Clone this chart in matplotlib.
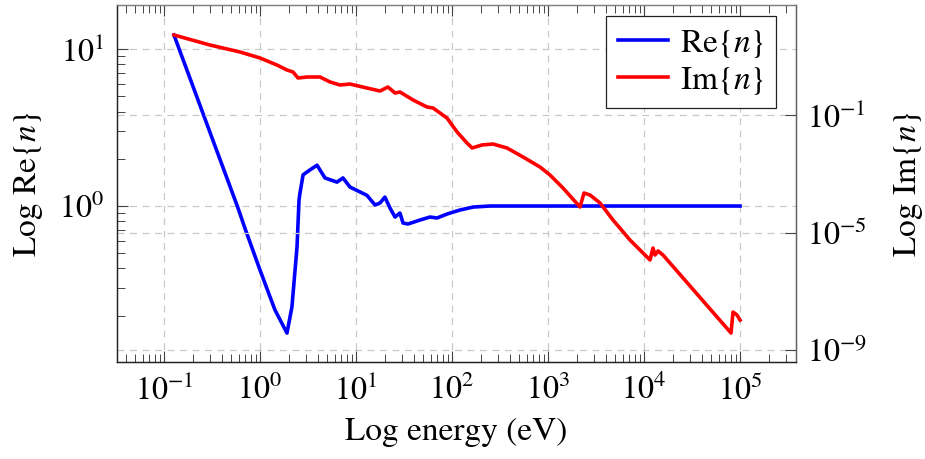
import numpy as np
import matplotlib
matplotlib.use('Agg')
import matplotlib.pyplot as plt
from matplotlib.ticker import LogLocator, FixedLocator, NullLocator, NullFormatter, LogFormatterMathtext

plt.rcParams['font.family'] = ['STIXGeneral', 'DejaVu Serif']
plt.rcParams['mathtext.fontset'] = 'stix'

# ---------------- data ----------------
re_energy = [0.127, 0.590, 0.698, 1.0, 1.43, 1.91, 2.15, 2.43, 2.55, 2.61, 2.81, 3.32,
             3.93, 4.75, 6.34, 7.32, 8.66, 11.0, 13.0, 15.8, 17.8, 20.0, 22.6, 25.5,
             28.7, 30.9, 34.8, 46.4, 59.0, 69.8, 88.7, 121, 166, 249, 1e5]
re_values = [12.3, 0.971, 0.72, 0.391, 0.218, 0.155, 0.227, 0.548, 1.09, 1.21, 1.58, 1.70,
             1.82, 1.51, 1.42, 1.51, 1.32, 1.23, 1.17, 1.015, 1.045, 1.14, 0.971, 0.851,
             0.902, 0.779, 0.768, 0.814, 0.851, 0.839, 0.889, 0.943, 0.985, 1.0, 1.0]

im_energy = [0.127, 0.301, 0.619, 1.0, 1.50, 1.91, 2.21, 2.49, 3.09, 4.22, 5.36, 6.81,
             8.66, 13.0, 17.8, 21.5, 25.5, 28.7, 39.3, 54.9, 63.4, 88.7, 113, 143, 162,
             205, 267, 374, 549, 826, 1049, 1432, 2154, 2371, 2738, 3481, 4753, 7145,
             11550, 12410, 13030, 13990, 15770, 80560, 84550, 93110, 1e5]
im_values = [52.6, 24.0, 13.9, 8.69, 5.02, 3.39, 2.90, 1.81, 1.96, 1.96, 1.33, 1.05,
             1.13, 0.828, 0.655, 0.896, 0.560, 0.605, 0.324, 0.187, 0.173, 0.0791, 0.0264,
             0.0112, 0.00755, 0.00955, 0.0103, 0.00755, 0.00373, 0.00170, 9.10e-4,
             3.29e-4, 7.43e-5, 2.22e-4, 1.90e-4, 1.02e-4, 2.68e-5, 5.60e-6, 1.17e-6,
             2.99e-6, 1.73e-6, 2.37e-6, 1.73e-6, 3.85e-9, 1.99e-8,
             1.57e-8, 1.06e-8]

x_ticks = [1e-1, 1e0, 1e1, 1e2, 1e3, 1e4, 1e5]
left_ticks = [1e0, 1e1]
right_ticks = [1e-9, 1e-5, 1e-1]

x_label = 'Log energy (eV)'
left_label = r'Log Re$\{n\}$'
right_label = r'Log Im$\{n\}$'
re_name = r'Re$\{n\}$'
im_name = r'Im$\{n\}$'

# ---------------- figure ----------------
W, H = 925, 459
fig = plt.figure(figsize=(W / 100, H / 100), dpi=100)
L, R, T, B = 117, 796, 5, 362
ax = fig.add_axes([L / W, 1 - B / H, (R - L) / W, (B - T) / H])
ax2 = ax.twinx()

FS = 23
LFS = 24
grid_kw = dict(color='#c8c8c8', linestyle=(0, (5.5, 4.5)), linewidth=0.9)

l1, = ax.plot(re_energy, re_values, color='#0000ff', lw=2.6, label=re_name, solid_joinstyle='round')
l2, = ax2.plot(im_energy, im_values, color='#ff0000', lw=2.6, label=im_name, solid_joinstyle='round')

for a in (ax, ax2):
    a.set_xscale('log')
    a.set_yscale('log')
ax.set_xlim(0.0324, 3.83e5)
ax.set_ylim(0.1014, 19.1)
ax2.set_ylim(3.97e-10, 551)

ax.xaxis.set_major_locator(FixedLocator(x_ticks))
ax.xaxis.set_major_formatter(LogFormatterMathtext())
ax.xaxis.set_minor_locator(LogLocator(base=10, subs=np.arange(2, 10), numticks=100))
ax.xaxis.set_minor_formatter(NullFormatter())

ax.yaxis.set_major_locator(FixedLocator(left_ticks))
ax.yaxis.set_major_formatter(LogFormatterMathtext())
ax.yaxis.set_minor_locator(LogLocator(base=10, subs=np.arange(2, 10), numticks=100))
ax.yaxis.set_minor_formatter(NullFormatter())

ax2.yaxis.set_major_locator(FixedLocator(right_ticks))
ax2.yaxis.set_major_formatter(LogFormatterMathtext())
ax2.yaxis.set_minor_locator(NullLocator())
ax2.yaxis.set_minor_formatter(NullFormatter())

ax.tick_params(axis='x', which='both', direction='in', top=True, bottom=True,
               labelsize=FS, pad=9, color='#444444')
ax.tick_params(axis='y', which='both', direction='in', left=True, right=False,
               labelsize=FS, pad=9, color='#444444')
ax.tick_params(which='major', length=8, width=0.8)
ax.tick_params(which='minor', length=5.5, width=0.7)
ax2.tick_params(axis='y', which='major', direction='in', right=True, left=False,
                labelsize=FS, pad=8, length=8, width=0.8, color='#444444')
ax2.tick_params(axis='x', which='both', top=False, bottom=False, labeltop=False, labelbottom=False)

ax.set_axisbelow(True)
ax.xaxis.grid(True, which='major', **grid_kw)
ax.yaxis.grid(True, which='major', **grid_kw)
ax2.yaxis.grid(True, which='major', **grid_kw)
ax2.set_axisbelow(True)

for a in (ax, ax2):
    a.spines['left'].set_color('#222222')
    a.spines['bottom'].set_color('#222222')
    a.spines['top'].set_color('#808080')
    a.spines['right'].set_color('#606060')
    for s in a.spines.values():
        s.set_linewidth(0.9)

ax.set_xlabel(x_label, fontsize=LFS)
ax.xaxis.set_label_coords(0.5, -0.155)
ax.set_ylabel(left_label, fontsize=LFS)
ax.yaxis.set_label_coords(-0.106, 0.5)
ax2.set_ylabel(right_label, fontsize=LFS)
ax2.yaxis.set_label_coords(1.141, 0.5)

leg = ax2.legend(handles=[l1, l2], loc='upper right',
                 bbox_to_anchor=((776 - L) / (R - L), (B - 16) / (B - T)),
                 borderaxespad=0, fontsize=24, frameon=True, fancybox=False,
                 framealpha=1, edgecolor='#222222', handlelength=1.5,
                 handletextpad=0.35, labelspacing=0.15, borderpad=0.35)
leg.get_frame().set_linewidth(0.9)

fig.savefig('out.png', dpi=100)
